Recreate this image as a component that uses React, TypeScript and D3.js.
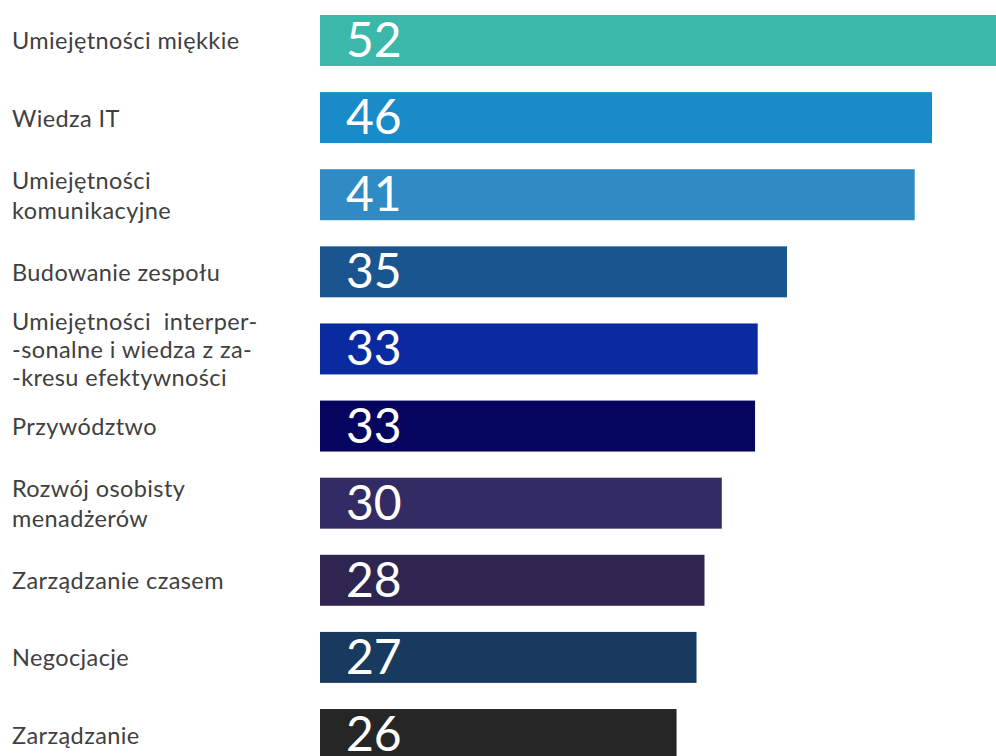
import React from "react";
import * as d3 from "d3";

const categories: string[][] = [
  ["Umiejętności miękkie"],
  ["Wiedza IT"],
  ["Umiejętności", "komunikacyjne"],
  ["Budowanie zespołu"],
  ["Umiejętności  interper-", "-sonalne i wiedza z za-", "-kresu efektywności"],
  ["Przywództwo"],
  ["Rozwój osobisty", "menadżerów"],
  ["Zarządzanie czasem"],
  ["Negocjacje"],
  ["Zarządzanie"],
];

// displayed numbers
const valueLabels: number[] = [52, 46, 41, 35, 33, 33, 30, 28, 27, 26];
// bar lengths as drawn in the picture (value units)
const barValues: number[] = [52, 46, 44.7, 35.1, 32.9, 32.7, 30.2, 28.9, 28.3, 26.8];

const colors: string[] = [
  "#3bb8aa",
  "#1a8bc9",
  "#308bc5",
  "#1a5590",
  "#0a2ba0",
  "#05055f",
  "#332b64",
  "#2e2550",
  "#183a5e",
  "#262626",
];

const W = 996;
const H = 756;

export default function App() {
  const ids = categories.map((_, i) => String(i));
  const x = d3.scaleLinear().domain([0, 46]).range([320, 932]);
  const y = d3
    .scaleBand<string>()
    .domain(ids)
    .range([15, 760])
    .paddingInner(0.339)
    .paddingOuter(0);
  const bw = y.bandwidth();

  return (
    <svg
      width={W}
      height={H}
      style={{ position: "absolute", left: 0, top: 0, overflow: "hidden", background: "#fff" }}
    >
      <rect x={0} y={0} width={W} height={H} fill="#fff" />
      {categories.map((lines, i) => {
        const y0 = y(String(i))!;
        const cy = y0 + bw / 2;
        const lh = lines.length === 3 ? 28 : 30;
        const firstY = cy - ((lines.length - 1) * lh) / 2;
        return (
          <g key={i}>
            <rect
              x={x(0)}
              y={y0}
              width={x(barValues[i]) - x(0)}
              height={bw}
              fill={colors[i]}
            />
            <text
              x={x(0) + 26}
              y={y0 + 42}
              fill="#fff"
              fontFamily="Lato, 'Open Sans', sans-serif"
              fontSize={48}
            >
              {valueLabels[i]}
            </text>
            <text
              fill="#404040"
              fontFamily="Lato, 'Open Sans', sans-serif"
              fontSize={23.5}
              letterSpacing={0.4}
              dominantBaseline="central"
            >
              {lines.map((l, k) => (
                <tspan key={k} x={12} y={firstY + k * lh} style={{ whiteSpace: "pre" }}>
                  {l}
                </tspan>
              ))}
            </text>
          </g>
        );
      })}
    </svg>
  );
}
